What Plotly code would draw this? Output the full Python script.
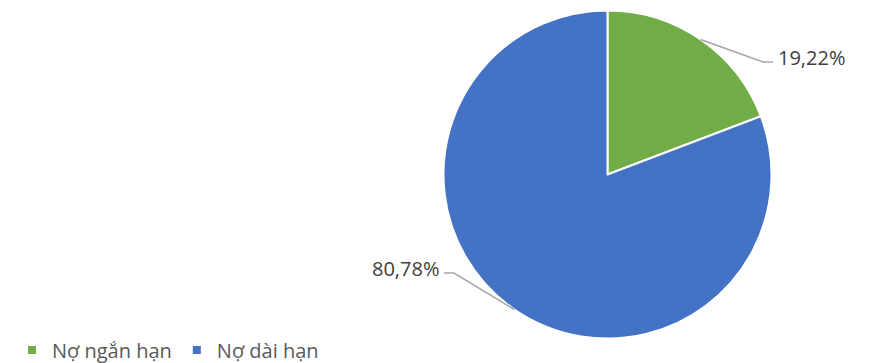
import math
import plotly.graph_objects as go

# Cơ cấu nợ
labels = ["Nợ ngắn hạn", "Nợ dài hạn"]
values = [19.22, 80.78]
colors = ["#70AD47", "#4472C4"]

W, H = 881, 363
CX, CY, R = 607.5, 174.5, 164.0          # pie centre / radius in pixels
FONT = "Open Sans"

# label anchor (end of the horizontal leader segment), pixels, per slice
LABEL_ANCHOR = [(773, 62), (444, 273)]
LABEL_SIDE = [1, -1]                      # +1: text right of anchor, -1: left


def px(x):
    return x / W


def py(y):
    return 1 - y / H


fig = go.Figure()
fig.add_trace(go.Pie(
    labels=labels,
    values=values,
    sort=False,
    direction="clockwise",
    rotation=0,
    marker=dict(colors=colors, line=dict(color="white", width=2)),
    textinfo="none",
    hoverinfo="label+percent",
    showlegend=False,
    domain=dict(x=[px(CX - R), px(CX + R)], y=[py(CY + R), py(CY - R)]),
))

# legend entries with small square keys
for name, col in zip(labels, colors):
    fig.add_trace(go.Scatter(
        x=[None], y=[None], mode="markers", name=name,
        marker=dict(symbol="square", size=8, color=col),
    ))

# outside percentage labels with leader lines
total = sum(values)
start = 0.0
shapes, annotations = [], []
for v, (ax, ay), side in zip(values, LABEL_ANCHOR, LABEL_SIDE):
    mid = math.radians((start + v / 2) / total * 360)
    start += v
    ex = CX + R * math.sin(mid)
    ey = CY - R * math.cos(mid)
    elbow_x = ax - side * 10
    path = f"M {px(ex)} {py(ey)} L {px(elbow_x)} {py(ay)} L {px(ax)} {py(ay)}"
    shapes.append(dict(type="path", xref="paper", yref="paper", path=path,
                       line=dict(color="#A6A6A6", width=1.5)))
    pct = f"{v / total * 100:.2f}".replace(".", ",") + "%"
    annotations.append(dict(
        x=px(ax + side * 3), y=py(ay - 5), xref="paper", yref="paper",
        text=pct, showarrow=False,
        xanchor="left" if side > 0 else "right", yanchor="middle",
        font=dict(family=FONT, size=20, color="#404040"),
    ))

fig.update_layout(
    width=W, height=H,
    margin=dict(l=0, r=0, t=0, b=0, autoexpand=False),
    paper_bgcolor="white", plot_bgcolor="white",
    xaxis=dict(visible=False), yaxis=dict(visible=False),
    shapes=shapes, annotations=annotations,
    legend=dict(orientation="h", x=px(12), y=py(350), yanchor="middle",
                xanchor="left", font=dict(family=FONT, size=20, color="#595959"),
                itemwidth=30, bgcolor="rgba(0,0,0,0)"),
)

fig.write_html("out.html")
